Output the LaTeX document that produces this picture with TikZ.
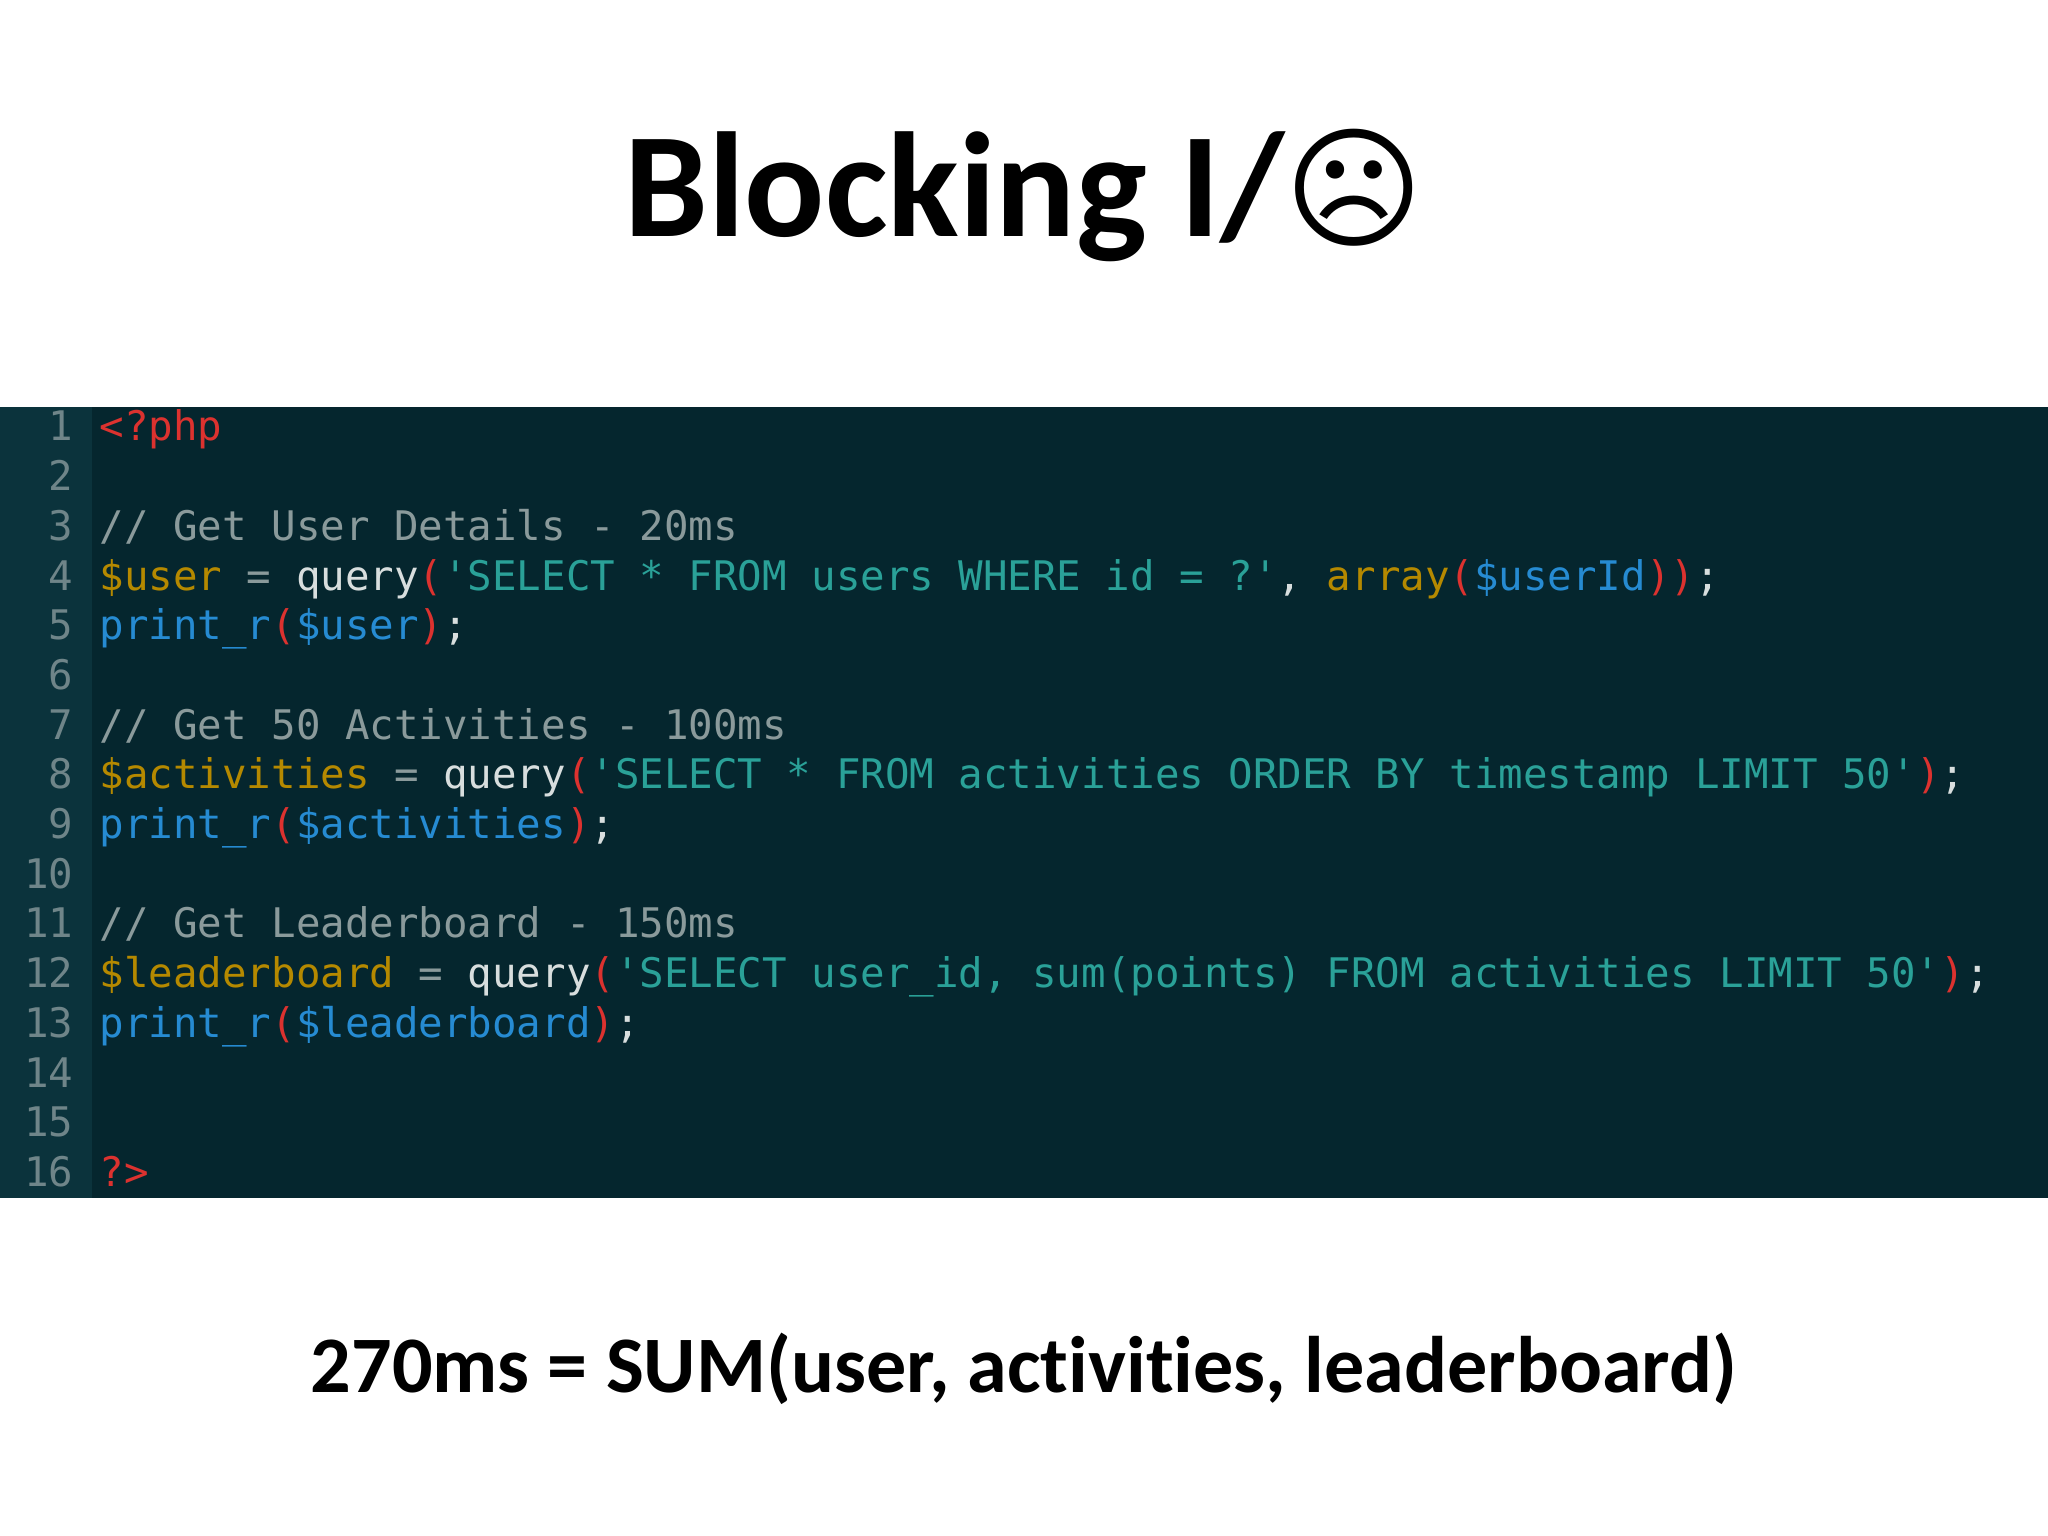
\documentclass[tikz,border=0pt]{standalone}
\usepackage{fontspec}
\setmainfont{Carlito}[Ligatures=NoCommon]
\setmonofont{DejaVu Sans Mono}
\newfontfamily\symfont{DejaVu Sans}
\definecolor{bgc}{HTML}{05262E}
\definecolor{gut}{HTML}{0B333C}
\definecolor{lnum}{HTML}{6F8589}
\definecolor{cmt}{HTML}{8A9A9B}
\definecolor{yel}{HTML}{B58900}
\definecolor{cya}{HTML}{2AA198}
\definecolor{blu}{HTML}{268BD2}
\definecolor{red}{HTML}{DC322F}
\definecolor{wht}{HTML}{D8DEDE}
\newcommand{\cY}[1]{\textcolor{yel}{#1}}
\newcommand{\cC}[1]{\textcolor{cya}{#1}}
\newcommand{\cB}[1]{\textcolor{blu}{#1}}
\newcommand{\cR}[1]{\textcolor{red}{#1}}
\newcommand{\cW}[1]{\textcolor{wht}{#1}}
\newcommand{\cG}[1]{\textcolor{cmt}{#1}}
\begin{document}
\begin{tikzpicture}[x=1cm,y=1cm,
  code/.style={anchor=base west,inner sep=0pt,font=\ttfamily\fontsize{11.6pt}{14pt}\selectfont},
  num/.style={anchor=base east,inner sep=0pt,text=lnum,font=\ttfamily\fontsize{11.6pt}{14pt}\selectfont}]
\useasboundingbox (0,0) rectangle (20.48,15.36);
\fill[white] (0,0) rectangle (20.48,15.36);
\fill[bgc] (0,3.38) rectangle (20.48,11.29);
\fill[gut] (0,3.38) rectangle (0.92,11.29);
\node[font=\bfseries\fontsize{42.5pt}{50pt}\selectfont] (title) at (10.24,13.40) {Blocking I/{\symfont\mdseries\fontsize{38pt}{44pt}\selectfont ☹}};
\foreach \i in {1,...,16}{
  \node[num] (n\i) at (0.74,{11.09-0.497*(\i-1)-0.14}) {\i};
}
\def\ly#1{{11.09-0.497*(#1-1)-0.14}}
\node[code] (l1) at (0.99,\ly{1}) {\cR{<?php}};
\node[code] (l3) at (0.99,\ly{3}) {\cG{// Get User Details - 20ms}};
\node[code] (l4) at (0.99,\ly{4}) {\cY{\$user} \cG{=} \cW{query}\cR{(}\cC{'SELECT * FROM users WHERE id = ?'}\cW{,} \cY{array}\cR{(}\cB{\$userId}\cR{))}\cW{;}};
\node[code] (l5) at (0.99,\ly{5}) {\cB{print\_r}\cR{(}\cB{\$user}\cR{)}\cW{;}};
\node[code] (l7) at (0.99,\ly{7}) {\cG{// Get 50 Activities - 100ms}};
\node[code] (l8) at (0.99,\ly{8}) {\cY{\$activities} \cG{=} \cW{query}\cR{(}\cC{'SELECT * FROM activities ORDER BY timestamp LIMIT 50'}\cR{)}\cW{;}};
\node[code] (l9) at (0.99,\ly{9}) {\cB{print\_r}\cR{(}\cB{\$activities}\cR{)}\cW{;}};
\node[code] (l11) at (0.99,\ly{11}) {\cG{// Get Leaderboard - 150ms}};
\node[code] (l12) at (0.99,\ly{12}) {\cY{\$leaderboard} \cG{=} \cW{query}\cR{(}\cC{'SELECT user\_id, sum(points) FROM activities LIMIT 50'}\cR{)}\cW{;}};
\node[code] (l13) at (0.99,\ly{13}) {\cB{print\_r}\cR{(}\cB{\$leaderboard}\cR{)}\cW{;}};
\node[code] (l16) at (0.99,\ly{16}) {\cR{?>}};
\node[font=\bfseries\fontsize{22.8pt}{28pt}\selectfont] (sum) at (10.24,1.67) {270ms = SUM(user, activities, leaderboard)};
\end{tikzpicture}
\end{document}
